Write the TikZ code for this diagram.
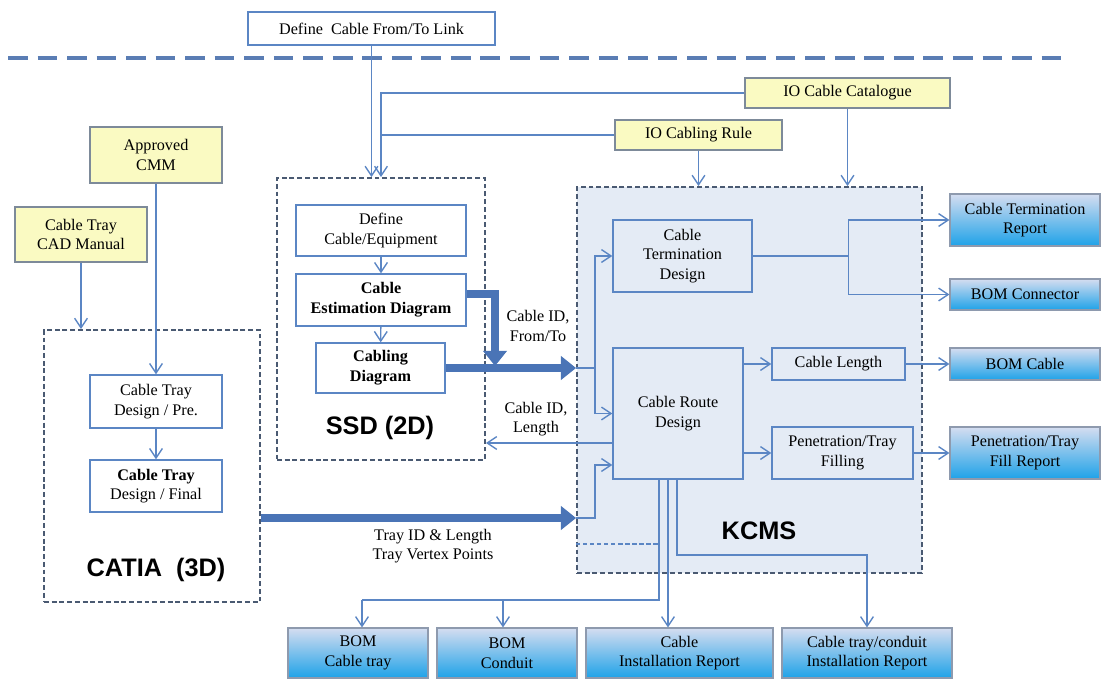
\documentclass[tikz,border=0pt]{standalone}
\usepackage{fontspec}
\setmainfont{Liberation Serif}
\setsansfont{Liberation Sans}
\usetikzlibrary{arrows.meta}
\definecolor{lnblue}{HTML}{5B86C4}
\definecolor{dshgray}{HTML}{4A5A72}
\definecolor{topdash}{HTML}{5A7DB4}
\definecolor{kfill}{HTML}{E4EBF5}
\definecolor{ylw}{HTML}{FAFAC2}
\definecolor{ylwline}{HTML}{7D8A99}
\definecolor{outtop}{HTML}{D5DDF0}
\definecolor{outbot}{HTML}{1EA2E8}
\definecolor{outedge}{HTML}{8E9AAE}
\definecolor{fatblue}{HTML}{4A74B6}
\begin{document}
\begin{tikzpicture}[x=0.025cm,y=-0.025cm,>={Straight Barb[length=2.4mm,width=3.2mm]},
    sz/.style 2 args={minimum width=#1*0.025cm,minimum height=#2*0.025cm},
    txt/.style={align=center,font=\fontsize{11.5}{14}\selectfont},
    box/.style={txt,draw=lnblue,line width=1pt,fill=white,inner sep=0pt},
    kbox/.style={box,fill=kfill},
    note/.style={txt,draw=ylwline,line width=1pt,fill=ylw,inner sep=0pt},
    outbox/.style={txt,draw=outedge,line width=0.8pt,top color=outtop,bottom color=outbot,inner sep=0pt},
    group/.style={draw=dshgray,line width=1.3pt,dash pattern=on 3.5pt off 2pt,inner sep=0pt},
    biglbl/.style={font=\sffamily\bfseries\fontsize{18}{20}\selectfont},
    conn/.style={draw=lnblue,line width=1pt},
    fat/.style={draw=fatblue,line width=5.5pt,-{Triangle[length=3.8mm,width=5.8mm]}}]
\useasboundingbox(0,0)rectangle(1102,680);
\draw[topdash,line width=2.5pt,dash pattern=on 14pt off 7pt](8,58)--(1065,58);
\node[group,sz={216}{272}](catia)at(152,466){};
\node[group,sz={208}{282}](ssd)at(381,319){};
\node[group,fill=kfill,sz={345}{386}](kcms)at(749.5,380){};
\node[biglbl](catialbl)at(156,570){CATIA\ \ (3D)};
\node[biglbl](ssdlbl)at(380,428){SSD (2D)};
\node[biglbl](kcmslbl)at(759,531){KCMS};
\node[box,sz={247}{33}](link)at(371.5,28.5){Define\ \ Cable From/To Link};
\node[note,sz={205}{30}](cat)at(847.5,93){IO Cable Catalogue};
\node[note,sz={167}{30}](rule)at(698.5,135){IO Cabling Rule};
\node[note,sz={132}{56}](cmm)at(156,155){Approved\\CMM};
\node[note,sz={132}{55}](cadman)at(81,234.5){Cable Tray\\CAD Manual};
\node[box,sz={132}{53}](pre)at(156,401.5){Cable Tray\\Design / Pre.};
\node[box,sz={132}{52}](final)at(156,486){\textbf{Cable Tray}\\Design / Final};
\node[box,sz={170}{51}](defeq)at(381,230.5){Define\\Cable/Equipment};
\node[box,sz={170}{52}](estim)at(381,300){\textbf{Cable}\\\textbf{Estimation Diagram}};
\node[box,sz={129}{50}](cabling)at(380.5,368){\textbf{Cabling}\\\textbf{Diagram}};
\node[kbox,sz={139}{72}](term)at(682.5,256){Cable\\Termination\\Design};
\node[kbox,sz={130}{131}](route)at(678,413.5){Cable Route\\Design};
\node[kbox,sz={133}{32}](clen)at(838.5,364){Cable Length};
\node[kbox,sz={141}{52}](pen)at(842.5,453){Penetration/Tray\\Filling};
\node[outbox,sz={150}{52}](rep1)at(1025,220){Cable Termination\\Report};
\node[outbox,sz={150}{31}](bomconn)at(1025,294.5){BOM Connector};
\node[outbox,sz={150}{32}](bomcab)at(1025,364){BOM Cable};
\node[outbox,sz={150}{52}](fillrep)at(1025,453){Penetration/Tray\\Fill Report};
\node[outbox,sz={140}{50}](bct)at(358,653){BOM\\Cable tray};
\node[outbox,sz={140}{50}](bcd)at(507,653){BOM\\Conduit};
\node[outbox,sz={187}{50}](cir)at(679.5,653){Cable\\Installation Report};
\node[outbox,sz={170}{50}](ctir)at(867,653){Cable tray/conduit\\Installation Report};
\node[txt](lbl1)at(538,326){Cable ID,\\From/To};
\node[txt](lbl2)at(536,419){Cable ID,\\Length};
\node[txt](lbl3)at(433,546){Tray ID \& Length\\Tray Vertex Points};
\draw[conn,->](link.south)--(link.south|-ssd.north);
\draw[conn,->](cat.west)-|(ssd.north);
\draw[conn](rule.west)--(rule.west-|ssd.north);
\draw[conn,->](rule.south)--(rule.south|-kcms.north);
\draw[conn,->](cat.south)--(cat.south|-kcms.north);
\draw[conn,->](cmm.south)--(pre.north);
\draw[conn,->](cadman.south)--(cadman.south|-catia.north);
\draw[conn,->](pre)--(final);
\draw[conn,->](defeq)--(estim);
\draw[conn,->](estim)--(cabling);
\draw[conn](cabling.east-|kcms.west)--++(19,0)coordinate(b1);
\draw[conn,->](b1)|-(term.west);
\draw[conn,->](b1)|-(route.west);
\draw[conn,->](kcms.west|-0,518)--++(19,0)|-(route.west|-0,465);
\draw[conn,->](route.west|-0,443)--(ssd.east|-0,443);
\draw[conn,->](route.east|-clen.west)--(clen.west);
\draw[conn,->](route.east|-pen.west)--(pen.west);
\draw[conn](term.east)--++(96,0)coordinate(b2);
\draw[conn,->](b2)|-(rep1.west);
\draw[conn,->](b2)|-(bomconn.west);
\draw[conn,->](clen)--(bomcab);
\draw[conn,->](pen)--(fillrep);
\draw[conn](route.south-|659,0)|-(362,600)coordinate(b3);
\coordinate(b4)at(503,600);
\draw[conn,->](b3)--(b3|-bct.north);
\draw[conn,->](b4)--(b4|-bcd.north);
\draw[conn,->](route.south-|668,0)--(668,0|-cir.north);
\draw[conn,->](route.south-|677,0)|-(ctir.north|-0,555)--(ctir.north);
\draw[conn,dash pattern=on 3pt off 2pt](kcms.west|-0,544)--(659,544);
\draw[fat](cabling.east)--(cabling.east-|kcms.west);
\draw[fat]([yshift=0.15cm]estim.east)-|(495,366);
\draw[fat](catia.east|-0,518)--(kcms.west|-0,518);
\end{tikzpicture}
\end{document}
